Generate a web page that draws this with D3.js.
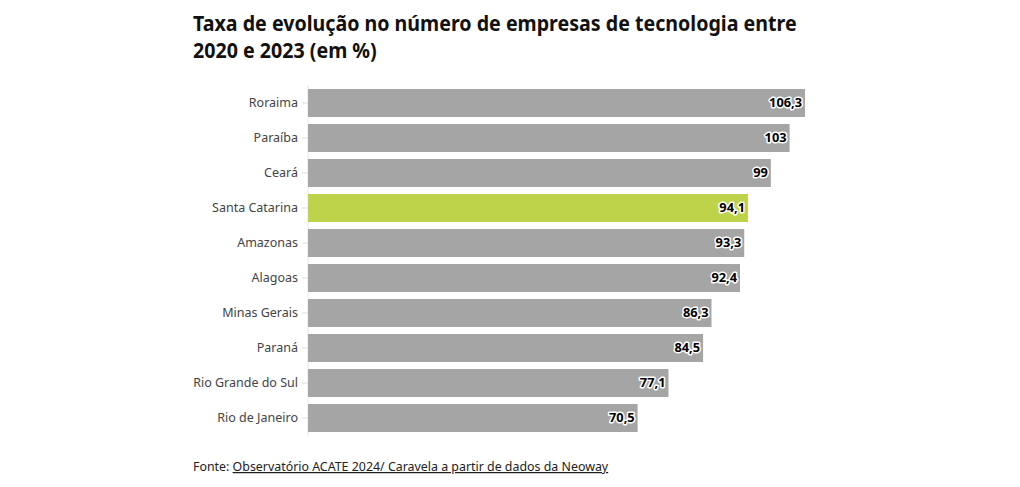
<!DOCTYPE html>
<html><head><meta charset="utf-8">
<script src="https://cdn.jsdelivr.net/npm/d3@7"></script>
<style>
body{margin:0;background:#fff;font-family:"Source Sans Pro","Noto Sans",sans-serif;}
</style></head><body>
<svg id="c" width="1020" height="487"></svg>
<script>
const categories = ["Roraima","Paraíba","Ceará","Santa Catarina","Amazonas","Alagoas","Minas Gerais","Paraná","Rio Grande do Sul","Rio de Janeiro"];
const values = [106.3,103,99,94.1,93.3,92.4,86.3,84.5,77.1,70.5];
const valueLabels = ["106,3","103","99","94,1","93,3","92,4","86,3","84,5","77,1","70,5"];
const highlight = "Santa Catarina";
const titleLines = ["Taxa de evolução no número de empresas de tecnologia entre","2020 e 2023 (em %)"];
const sourcePrefix = "Fonte: ";
const sourceText = "Observatório ACATE 2024/ Caravela a partir de dados da Neoway";

const svg = d3.select("#c");
const font = '"Noto Sans", sans-serif';
const x = d3.scaleLinear().domain([0, d3.max(values)]).range([308, 805]);
const y = d3.scaleBand().domain(categories).range([85.5, 435.5]).paddingInner(0.2).paddingOuter(0.1);

const tg = svg.append("g");
const tt = tg.selectAll("text").data(titleLines).join("text")
  .attr("x", 0).attr("y", (d,i)=>31+i*27)
  .attr("font-family", font).attr("font-weight", 700).attr("font-size", 21)
  .attr("fill", "#111").text(d=>d);
const w0 = tt.node().getComputedTextLength();
tg.attr("transform", `translate(193,0) scale(${604/w0},1)`);

const ax = svg.append("g").attr("transform","translate(308,0)")
  .call(d3.axisLeft(y).tickSize(6).tickPadding(4));
ax.select(".domain").attr("stroke","#e6e6e6").attr("d","M0,85.5V435.5");
ax.selectAll(".tick line").attr("stroke","#ddd");
ax.selectAll(".tick text").attr("font-family",font).attr("font-size",12.5).attr("fill","#444");

svg.append("g").selectAll("rect").data(categories).join("rect")
  .attr("x", x(0)).attr("y", d=>y(d))
  .attr("width", (d,i)=>x(values[i])-x(0)).attr("height", y.bandwidth())
  .attr("fill", d=> d===highlight ? "#bed34a" : "#a5a5a5");

svg.append("g").selectAll("text").data(categories).join("text")
  .attr("x", (d,i)=>x(values[i])-3).attr("y", d=>y(d)+y.bandwidth()/2)
  .attr("dy","0.35em").attr("text-anchor","end")
  .attr("font-family",font).attr("font-weight",700).attr("font-size",12.8)
  .attr("fill","#000").attr("stroke","#fff").attr("stroke-width",3)
  .attr("paint-order","stroke").attr("stroke-linejoin","round")
  .text((d,i)=>valueLabels[i]);

const src = svg.append("text").attr("x",193).attr("y",471)
  .attr("font-family",font).attr("font-size",12.4).attr("fill","#222");
src.append("tspan").text(sourcePrefix);
src.append("tspan").attr("text-decoration","underline").text(sourceText);
</script>
</body></html>
